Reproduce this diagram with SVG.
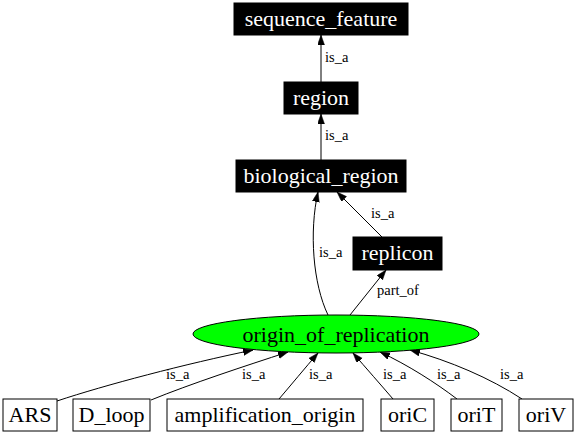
<svg xmlns="http://www.w3.org/2000/svg" width="576" height="435" viewBox="0 0 576 435">
<style>
.bg{fill:#ffffff}
.dark rect{fill:#000000;stroke:#000000;stroke-width:1}
.dark text{fill:#ffffff}
.light rect{fill:#ffffff;stroke:#000000;stroke-width:1}
.light text{fill:#000000}
.nl{font-family:"Liberation Serif","Times New Roman",serif;font-size:22px;text-anchor:middle}
.el{font-family:"Liberation Serif","Times New Roman",serif;font-size:14.5px;fill:#000000}
.edge{fill:none;stroke:#000000;stroke-width:1;marker-end:url(#arr)}
</style>
<defs>
<marker id="arr" markerUnits="userSpaceOnUse" markerWidth="10" markerHeight="8" refX="10" refY="3.5" orient="auto">
<polygon points="0,0 10,3.5 0,7" fill="#000000" stroke="#000000" stroke-width="0.5"/>
</marker>
</defs>
<rect class="bg" x="0" y="0" width="576" height="435"/>
<g id="connectors">
<path class="edge" d="M321,82 L321,35"/>
<text class="el" x="325" y="62">is_a</text>
<path class="edge" d="M321,160 L321,114"/>
<text class="el" x="325" y="140">is_a</text>
<path class="edge" d="M328,315 C313,284 309,232 318,192"/>
<text class="el" x="319" y="257">is_a</text>
<path class="edge" d="M382,237 L337,192"/>
<text class="el" x="371" y="218">is_a</text>
<path class="edge" d="M350,315 L386,270"/>
<text class="el" x="377" y="295">part_of</text>
<path class="edge" d="M57,401 C105,385 185,364 253,350"/>
<text class="el" x="166" y="379">is_a</text>
<path class="edge" d="M151,400 C190,384 245,366 288,352"/>
<text class="el" x="242" y="379">is_a</text>
<path class="edge" d="M279,399 C291,385 305,368 318,353"/>
<text class="el" x="309" y="379">is_a</text>
<path class="edge" d="M393,399 C381,385 366,368 353,353"/>
<text class="el" x="383" y="379">is_a</text>
<path class="edge" d="M457,399 C436,383 408,365 380,352"/>
<text class="el" x="437" y="379">is_a</text>
<path class="edge" d="M522,399 C490,378 450,361 410,350"/>
<text class="el" x="500" y="379">is_a</text>
</g>
<g id="sequence_feature" class="dark"><rect x="234" y="3" width="174" height="32"/><text class="nl" x="321" y="25.5">sequence_feature</text></g>
<g id="region" class="dark"><rect x="284" y="82" width="74" height="32"/><text class="nl" x="321" y="104.5">region</text></g>
<g id="biological_region" class="dark"><rect x="236" y="160" width="170" height="32"/><text class="nl" x="321" y="182.5">biological_region</text></g>
<g id="replicon" class="dark"><rect x="353" y="237" width="89" height="33"/><text class="nl" x="397.5" y="260">replicon</text></g>
<g id="origin_of_replication"><ellipse cx="336" cy="334" rx="143" ry="19" fill="#00ff00" stroke="#000000" stroke-width="1"/><text class="nl" x="336" y="341.5" fill="#000000">origin_of_replication</text></g>
<g id="ARS" class="light"><rect x="3" y="399" width="54" height="32"/><text class="nl" x="30" y="421.5">ARS</text></g>
<g id="D_loop" class="light"><rect x="73" y="399" width="77" height="32"/><text class="nl" x="111.5" y="421.5">D_loop</text></g>
<g id="amplification_origin" class="light"><rect x="167" y="399" width="196" height="32"/><text class="nl" x="265" y="421.5">amplification_origin</text></g>
<g id="oriC" class="light"><rect x="381" y="399" width="53" height="32"/><text class="nl" x="407.5" y="421.5">oriC</text></g>
<g id="oriT" class="light"><rect x="451" y="399" width="51" height="32"/><text class="nl" x="476.5" y="421.5">oriT</text></g>
<g id="oriV" class="light"><rect x="519" y="399" width="54" height="32"/><text class="nl" x="546" y="421.5">oriV</text></g>
</svg>
